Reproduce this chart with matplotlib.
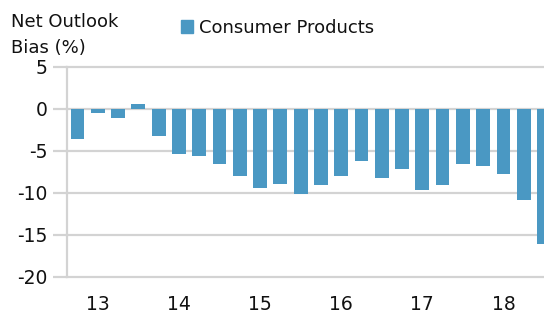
import matplotlib
matplotlib.use("Agg")
import matplotlib.pyplot as plt
import numpy as np

plt.rcParams['font.family'] = ['DejaVu Sans']

values = [-3.6, -0.5, -1.1, 0.6, -3.2, -5.3, -5.6, -6.5, -8.0, -9.4, -8.9, -10.1,
          -9.1, -8.0, -6.2, -8.2, -7.2, -9.6, -9.1, -6.5, -6.8, -7.7, -10.8, -16.1]
year_labels = ["13", "14", "15", "16", "17", "18"]
series_name = "Consumer Products"

bar_color = "#4a98c3"
grid_color = "#d3d3d3"
text_color = "#111111"

fig = plt.figure(figsize=(5.44, 3.2), dpi=100)
W, H = 544, 320
ax = fig.add_axes([67 / W, 1 - 277 / H, (W - 67) / W, (277 - 67) / H])

x = np.arange(1, len(values) + 1)
ax.bar(x, values, width=0.68, color=bar_color, zorder=3)

ax.set_xlim(0.48, 24.0)
ax.set_ylim(-20, 5)
ax.set_yticks([5, 0, -5, -10, -15, -20])
ax.set_yticklabels(["5", "0", "-5", "-10", "-15", "-20"])
ax.set_xticks(x[1::4][:len(year_labels)])
ax.set_xticklabels(year_labels)

ax.grid(axis='y', color=grid_color, linewidth=1.6, zorder=0)
for gl in ax.get_ygridlines():
    gl.set_clip_on(False)
ax.tick_params(axis='y', length=10, width=1.6, color=grid_color, labelsize=13.5, pad=4, labelcolor=text_color)
ax.tick_params(axis='x', length=0, labelsize=13.5, pad=13, labelcolor=text_color)

for s in ['top', 'right', 'bottom']:
    ax.spines[s].set_visible(False)
ax.spines['left'].set_color(grid_color)
ax.spines['left'].set_linewidth(1.6)

fig.text(11 / W, 1 - 27 / H, "Net Outlook", fontsize=13, ha='left', va='baseline', color=text_color)
fig.text(11 / W, 1 - 53 / H, "Bias (%)", fontsize=13, ha='left', va='baseline', color=text_color)
fig.patches.append(plt.Rectangle((181 / W, 1 - 33 / H), 12 / W, 13 / H,
                                 transform=fig.transFigure, color=bar_color))
fig.text(199 / W, 1 - 33 / H, series_name, fontsize=13, ha='left', va='baseline', color=text_color)

fig.savefig("out.png", dpi=100)
